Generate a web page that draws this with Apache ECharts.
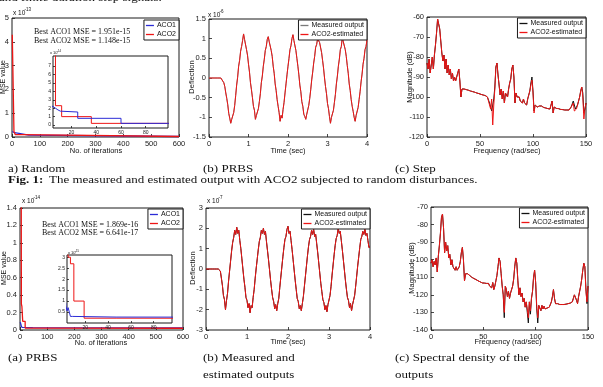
<!DOCTYPE html>
<html>
<head>
<meta charset="utf-8">
<script src="https://cdn.jsdelivr.net/npm/echarts@6/dist/echarts.min.js"></script>
<style>
  html, body { margin: 0; padding: 0; background: #fff; }
  #main { width: 603px; height: 387px; }
</style>
</head>
<body>
<div id="main"></div>
<script>
// best-so-far MSE, [iteration, value]; random case in x1e-14, PRBS case in x1e-15
var randomAco1 = [[1, 2.3], [3, 2.2], [5, 2.0], [7, 1.8], [9, 1.65], [11, 1.55], [25, 0.8], [60, 0.2], [600, 0.195]];
var randomAco2 = [[1, 43], [7, 2.3], [12, 1.0], [36, 0.2], [600, 0.115]];
var prbsAco1 = [[1, 0.9], [3, 0.8], [4, 0.55], [5, 0.7], [6, 0.5], [7, 0.3], [9, 0.27], [47, 0.25], [600, 0.19]];
var prbsAco2 = [[1, 127], [5, 3.0], [7, 2.7], [10, 1.0], [19, 0.22], [47, 0.2], [600, 0.19]];

// deflection sampled every 0.025 s (top: x1e-6, bottom: x1e-7)
var timeStep = 0.025;
var prbsDeflection = [0, 0, 0, 0, 0, 0, 0, 0, 0, 0, 0, 0, 0, 0,
  -0.02, -0.12, -0.22, -0.38, -0.52, -0.68, -0.9, -1.02,
  -1.15, -1.05, -1.1, -0.88, -0.7, -0.45, -0.18, 0.02, 0.3, 0.45, 0.68, 0.8, 0.95, 1.12,
  0.98, 0.95, 0.72, 0.58, 0.35, 0.15, -0.12, -0.3, -0.5, -0.72, -0.82, -1.05,
  -0.95, -1.0, -0.78, -0.6, -0.4, -0.12, 0.05, 0.3, 0.48, 0.7, 0.8, 0.98, 1.05,
  0.92, 0.95, 0.7, 0.55, 0.3, 0.12, -0.15, -0.32, -0.55, -0.72, -0.88, -1.1,
  -0.95, -1.02, -0.8, -0.62, -0.38, -0.15, 0.08, 0.3, 0.5, 0.72, 0.82, 1.0, 1.1,
  0.95, 0.92, 0.7, 0.5, 0.3, 0.08, -0.18, -0.35, -0.6, -0.72, -0.92, -0.98, -1.05,
  -0.92, -0.95, -0.7, -0.52, -0.3, -0.05, 0.15, 0.38, 0.55, 0.78, 0.85, 1.0, 1.05,
  0.9, 0.88, 0.65, 0.45, 0.25, 0.0, -0.22, -0.4, -0.65, -0.78, -0.98, -1.15,
  -1.0, -1.05, -0.82, -0.62, -0.42, -0.15, 0.05, 0.3, 0.48, 0.72, 0.8, 1.03,
  0.92, 0.95, 0.72, 0.55, 0.32, 0.12, -0.15, -0.32, -0.55, -0.72, -0.85, -1.0, -1.1,
  -0.95, -0.98, -0.75, -0.55, -0.35, -0.1, 0.1, 0.35, 0.5, 0.72, 0.8, 0.97];
var outDeflection = [0, 0, 0, 0, 0, 0, 0, 0, 0, 0, 0, 0, 0, 0,
  -0.1, -0.45, -0.8, -1.3, -1.5, -2.0, -1.55, -1.2, -0.6, -0.1, 0.4, 0.9, 1.3, 1.55, 1.9, 1.7,
  2.05, 1.75, 1.9, 1.4, 1.0, 0.5, 0.0, -0.5, -0.9, -1.4, -1.55, -1.9, -1.7,
  -2.15, -1.8, -1.9, -1.4, -1.0, -0.45, 0.05, 0.5, 0.95, 1.35, 1.55, 1.9, 1.75,
  2.0, 1.7, 1.85, 1.35, 0.9, 0.45, -0.05, -0.55, -1.0, -1.4, -1.6, -1.95,
  -1.75, -2.05, -1.7, -1.45, -0.9, -0.4, 0.1, 0.6, 1.05, 1.45, 1.6, 1.95,
  2.1, 1.75, 1.85, 1.4, 0.95, 0.45, -0.05, -0.55, -1.0, -1.45, -1.6, -1.95,
  -1.8, -2.05, -1.7, -1.35, -0.85, -0.35, 0.15, 0.65, 1.1, 1.45, 1.6, 1.9, 1.7,
  1.95, 1.6, 1.7, 1.25, 0.8, 0.3, -0.2, -0.7, -1.1, -1.5, -1.65, -2.0, -1.8,
  -2.1, -1.75, -1.8, -1.3, -0.85, -0.3, 0.2, 0.7, 1.15, 1.5, 1.65,
  2.0, 1.75, 1.85, 1.4, 0.95, 0.45, -0.05, -0.55, -1.0, -1.4, -1.55, -1.9, -1.7,
  -2.05, -1.75, -1.8, -1.3, -0.85, -0.35, 0.15, 0.6, 1.05, 1.45, 1.6, 1.85, 1.7,
  1.95, 1.65, 1.75, 1.4, 1.05, 1.1];

// spectra in dB, one value per rad/sec from 0 to 150
var stepSpecMeasured = [-83, -86, -81, -88, -84, -80, -86, -79, -74, -68,
  -61, -60, -66, -72, -78, -82, -79, -86, -81, -88,
  -84, -89, -86, -91, -88, -92, -90, -92, -90, -88,
  -86, -92, -100, -96, -95.5, -96, -96, -96.3, -96.5, -96.6,
  -96.8, -97, -97.1, -97.3, -97.5, -97.6, -97.8, -98, -98.2, -98.3,
  -98.5, -98.7, -98.8, -99, -99.2, -99.3, -99.6, -100, -101, -103,
  -103, -107, -104, -101, -95, -85, -83, -89, -94, -99,
  -96, -101, -97, -103, -98, -97, -100, -96, -93, -91,
  -86, -84, -90, -103, -98, -100, -101, -100, -102, -101,
  -103, -101, -103, -102, -104, -101, -100, -97, -93, -90,
  -97, -107, -104, -103, -105, -104, -104.5, -105, -104.5, -105,
  -105.2, -105, -105.5, -105.3, -105.8, -106, -106, -104, -102, -108,
  -105, -105.5, -105.7, -106, -105.8, -106, -106.2, -106, -106.3, -106.2,
  -106.5, -106.3, -106.5, -106.3, -106.5, -106, -105, -104, -102, -103,
  -106, -106, -104, -103, -100, -97, -95, -98, -108, -106,
  -103];
var stepSpecEstimated = [-83, -86, -81, -88, -84, -80, -86, -79, -74, -68,
  -61, -60, -66, -72, -78, -82, -79, -86, -81, -88,
  -84, -89, -86, -91, -88, -92, -90, -92, -90, -88,
  -86, -92, -100, -96, -95.5, -96, -96, -96.3, -96.5, -96.6,
  -96.8, -97, -97.1, -97.3, -97.5, -97.6, -97.8, -98, -98.2, -98.3,
  -98.5, -98.7, -98.8, -99, -99.2, -99.3, -99.6, -100, -101, -104,
  -106, -101, -114, -104, -96, -85, -83, -89, -94, -99,
  -96, -101, -97, -103, -98, -97, -100, -96, -93, -91,
  -86, -84, -90, -103, -98, -100, -101, -100, -102, -101,
  -103, -101, -103, -102, -104, -101, -100, -97, -94, -91.5,
  -98, -108, -104, -103, -105, -104, -104.5, -105, -104.5, -105,
  -105.2, -105, -105.5, -105.3, -105.8, -106, -106, -104, -102, -108,
  -105, -105.5, -105.7, -106, -105.8, -106, -106.2, -106, -106.3, -106.2,
  -106.5, -106.3, -106.5, -106.3, -106.5, -106, -105, -104, -103, -107,
  -108, -106, -104, -103, -100, -97, -95, -100, -111, -106,
  -103];
var prbsSpecMeasured = [-102, -100, -104, -101, -103, -99, -107, -98, -92, -85,
  -76, -74, -82, -96, -90, -95, -92, -99, -97, -103,
  -100, -104, -103, -106, -104, -106, -105, -104, -101, -96,
  -93, -100, -112, -108, -107.5, -108, -108.5, -109, -109.5, -110,
  -110.3, -110.7, -111, -111.3, -111.7, -112, -112.3, -112.6, -113, -113.2,
  -113.5, -113.3, -114, -113.5, -114.5, -113.5, -115, -114, -116, -113,
  -117, -115, -112, -109, -104, -99, -101, -108, -115, -120,
  -133, -115, -117, -121, -118, -122, -119, -118, -115, -111,
  -104, -99, -102, -112, -120, -116, -121, -119, -124, -122,
  -127, -124, -130, -136, -124, -131, -122, -118, -110, -106,
  -113, -128, -136, -126, -127, -129, -126, -128, -126.5, -128,
  -127, -127.5, -126.5, -127, -126, -124, -121, -117, -122, -125,
  -125.5, -125, -126, -125.5, -126, -125.5, -126, -125.5, -125.8, -125.3,
  -125.5, -125, -125.2, -124.7, -124.5, -124, -122, -120, -119, -123,
  -125, -121, -118, -115, -111, -106, -102, -104, -116, -125,
  -115];
var prbsSpecEstimated = [-102, -100, -104, -101, -103, -99, -107, -98, -92, -85,
  -76, -74, -82, -96, -90, -95, -92, -99, -97, -103,
  -100, -104, -103, -106, -104, -106, -105, -104, -101, -96,
  -93, -100, -112, -108, -107.5, -108, -108.5, -109, -109.5, -110,
  -110.3, -110.7, -111, -111.3, -111.7, -112, -112.3, -112.6, -113, -113.2,
  -113.5, -113.3, -114, -113.5, -114.5, -113.5, -115, -114, -116, -113,
  -117, -115, -112, -109, -104, -99, -101, -108, -115, -120,
  -130, -115, -117, -121, -118, -122, -119, -118, -115, -111,
  -104, -99, -102, -112, -120, -116, -121, -119, -124, -122,
  -127, -124, -128, -133, -124, -129, -122, -118, -110, -106,
  -113, -126, -133, -126, -127, -129, -126, -128, -126.5, -128,
  -127, -127.5, -126.5, -127, -126, -124, -121, -117, -122, -125,
  -125.5, -125, -126, -125.5, -126, -125.5, -126, -125.5, -125.8, -125.3,
  -125.5, -125, -125.2, -124.7, -124.5, -124, -122, -120, -119, -123,
  -125, -121, -118, -115, -111, -106, -102, -104, -118, -124,
  -115];

var chart = echarts.init(document.getElementById('main'));
var sansFont = 'Liberation Sans';
var serifFont = 'Liberation Serif';
var frameColor = '#1a1a1a';
var redColor = '#ee1515';
var blueColor = '#2b2bd6';

// left, top, width, height of every axes box
var boxes = [
  [12, 18, 167, 119],
  [53, 56, 115, 72],
  [209, 19, 158, 118],
  [427, 17, 159, 120],
  [20, 208, 163, 122],
  [67, 255, 105, 68],
  [206, 208, 164, 122],
  [431, 207, 157, 123]
];
var insetBoxes = [1, 5];

var grids = boxes.map(function (b, i) {
  var inset = insetBoxes.indexOf(i) >= 0;
  return {
    left: b[0], top: b[1], width: b[2], height: b[3],
    show: true, borderColor: frameColor, borderWidth: 1,
    backgroundColor: '#fff', z: inset ? 3 : 0
  };
});

function makeAxis(gridIndex, min, max, interval, labels) {
  var small = insetBoxes.indexOf(gridIndex) >= 0;
  var axis = {
    type: 'value', gridIndex: gridIndex, min: min, max: max,
    axisLine: { show: false, onZero: false },
    axisTick: { show: true, inside: true, length: small ? 2 : 3, lineStyle: { color: frameColor, width: 0.8 } },
    axisLabel: { fontFamily: sansFont, fontSize: small ? 5 : 7.5, color: '#222', margin: small ? 2 : 3, showMinLabel: true, showMaxLabel: true },
    splitLine: { show: false },
    z: small ? 4 : 1
  };
  if (interval) axis.interval = interval;
  if (labels) {
    axis.axisLabel.customValues = labels;
    axis.axisTick.customValues = labels;
  }
  return axis;
}

var xAxes = [
  makeAxis(0, 0, 600, 100),
  makeAxis(1, 5, 98, null, [20, 40, 60, 80]),
  makeAxis(2, 0, 4, 1),
  makeAxis(3, 0, 150, 50),
  makeAxis(4, 0, 600, 100),
  makeAxis(5, 4, 96, null, [20, 40, 60, 80]),
  makeAxis(6, 0, 4, 1),
  makeAxis(7, 0, 150, 50)
];
var yAxes = [
  makeAxis(0, 0, 5, 1),
  makeAxis(1, -0.35, 8.2, null, [0, 1, 2, 3, 4, 5, 6, 7]),
  makeAxis(2, -1.5, 1.5, 0.5),
  makeAxis(3, -120, -60, 10),
  makeAxis(4, 0, 1.4, 0.2),
  makeAxis(5, 0, 3.1, null, [0.5, 1, 1.5, 2, 2.5, 3]),
  makeAxis(6, -3, 3, 1),
  makeAxis(7, -140, -70, 10)
];

function scaled(points, factor) {
  return points.map(function (p) { return [p[0], p[1] / factor]; });
}
function sampled(values, step) {
  return values.map(function (v, i) { return [i * step, v]; });
}
function line(name, gridIndex, data, color, width, step) {
  var inset = insetBoxes.indexOf(gridIndex) >= 0;
  return {
    name: name, type: 'line', xAxisIndex: gridIndex, yAxisIndex: gridIndex,
    data: data, step: step || false, showSymbol: false, symbol: 'none',
    lineStyle: { color: color, width: width }, itemStyle: { color: color },
    clip: true, silent: true, z: inset ? 5 : 2
  };
}

var series = [
  line('ACO1', 0, scaled(randomAco1, 10), blueColor, 1.3, 'end'),
  line('ACO2', 0, scaled(randomAco2, 10), redColor, 1.3, 'end'),
  line('ACO2', 1, randomAco2, redColor, 1, 'end'),
  line('ACO1', 1, randomAco1, blueColor, 1, 'end'),
  line('Measured output', 2, sampled(prbsDeflection, timeStep), '#7a7a7a', 1),
  line('ACO2-estimated', 2, sampled(prbsDeflection, timeStep), redColor, 1),
  line('Measured output', 3, sampled(stepSpecMeasured, 1), '#111', 1),
  line('ACO2-estimated', 3, sampled(stepSpecEstimated, 1), redColor, 1),
  line('ACO1', 4, scaled(prbsAco1, 10), blueColor, 1.3, 'end'),
  line('ACO2', 4, scaled(prbsAco2, 10), redColor, 1.3, 'end'),
  line('ACO2', 5, prbsAco2, redColor, 1, 'end'),
  line('ACO1', 5, prbsAco1, blueColor, 1, 'end'),
  line('Measured output', 6, sampled(outDeflection, timeStep), '#111', 1),
  line('ACO2-estimated', 6, sampled(outDeflection, timeStep), redColor, 1),
  line('Measured output', 7, sampled(prbsSpecMeasured, 1), '#111', 1),
  line('ACO2-estimated', 7, sampled(prbsSpecEstimated, 1), redColor, 1)
];

function boxLegend(right, top, names) {
  return {
    right: right, top: top, orient: 'vertical', data: names,
    icon: 'rect', itemWidth: 8, itemHeight: 1.3, itemGap: 2,
    padding: [2, 3, 2, 2], backgroundColor: '#fff',
    borderColor: frameColor, borderWidth: 1, borderRadius: 0,
    textStyle: { fontFamily: sansFont, fontSize: 7, color: '#111', padding: [0, 0, 0, -2] },
    selectedMode: false, z: 10
  };
}
var legends = [
  boxLegend(424, 20, ['ACO1', 'ACO2']),
  boxLegend(236, 20, [{ name: 'Measured output', itemStyle: { color: '#7a7a7a' } }, 'ACO2-estimated']),
  boxLegend(17, 18, [{ name: 'Measured output', itemStyle: { color: '#111' } }, 'ACO2-estimated']),
  boxLegend(420, 209, ['ACO1', 'ACO2']),
  boxLegend(233, 209, [{ name: 'Measured output', itemStyle: { color: '#111' } }, 'ACO2-estimated']),
  boxLegend(15, 208, [{ name: 'Measured output', itemStyle: { color: '#111' } }, 'ACO2-estimated'])
];

function txt(text, x, y, size, opt) {
  opt = opt || {};
  return {
    type: 'text', x: x, y: y, rotation: opt.rotate ? Math.PI / 2 : 0,
    scaleY: opt.squash || 1, z: 100,
    style: {
      text: text, fill: '#111',
      font: (opt.bold ? 'bold ' : '') + size + 'px "' + (opt.family || sansFont) + '"',
      align: opt.align || 'center', verticalAlign: 'middle'
    }
  };
}
function caption(text, x, y, bold) {
  return txt(text, x, y, 13, { family: serifFont, align: 'left', squash: 0.85, bold: bold });
}
function expo(x, y, power, size) {
  return [txt('x 10', x, y, size, { align: 'left' }), txt(power, x + size * 1.75, y - size * 0.5, size * 0.7, { align: 'left' })];
}

var graphics = [
  caption('and finite duration step signals.', -1, -2),
  // axis titles
  txt('MSE value', 3, 77, 7, { rotate: true }),
  txt('No. of iterations', 96, 151, 7.5),
  txt('Deflection', 192, 77, 7.5, { rotate: true }),
  txt('Time (sec)', 288, 151, 7.5),
  txt('Magnitude (dB)', 410, 77, 7.5, { rotate: true }),
  txt('Frequency (rad/sec)', 507, 151, 7.5),
  txt('MSE value', 4, 268, 7, { rotate: true }),
  txt('No. of iterations', 101, 343, 7.5),
  txt('Deflection', 193, 268, 7.5, { rotate: true }),
  txt('Time (sec)', 288, 342, 7.5),
  txt('Magnitude (dB)', 412, 268, 7.5, { rotate: true }),
  txt('Frequency (rad/sec)', 508, 342, 7.5),
  // notes
  txt('Best ACO1 MSE = 1.951e-15', 34, 32, 8, { family: serifFont, align: 'left' }),
  txt('Best ACO2 MSE = 1.148e-15', 34, 41, 8, { family: serifFont, align: 'left' }),
  txt('Best ACO1 MSE = 1.869e-16', 42, 225, 8, { family: serifFont, align: 'left' }),
  txt('Best ACO2 MSE = 6.641e-17', 42, 233, 8, { family: serifFont, align: 'left' }),
  // captions
  caption('a) Random', 8, 169),
  caption('(b) PRBS', 203, 169),
  caption('(c) Step', 395, 169),
  caption('Fig. 1:', 8, 180, true),
  caption('The measured and estimated output with ACO2 subjected to random disturbances.', 49, 180),
  caption('(a) PRBS', 8, 358),
  caption('(b) Measured and', 203, 358),
  caption('estimated outputs', 203, 375),
  caption('(c) Spectral density of the', 395, 358),
  caption('outputs', 395, 375)
].concat(
  expo(13, 13, '-13', 6.5),
  expo(50, 53, '-14', 4),
  expo(208, 15, '-6', 6.5),
  expo(22, 201, '-14', 6.5),
  expo(68, 253, '-15', 4),
  expo(207, 201, '-7', 6.5)
);

var option = {
  animation: false,
  backgroundColor: '#fff',
  grid: grids,
  xAxis: xAxes,
  yAxis: yAxes,
  legend: legends,
  series: series,
  graphic: graphics
};
chart.setOption(option);
</script>
</body>
</html>
